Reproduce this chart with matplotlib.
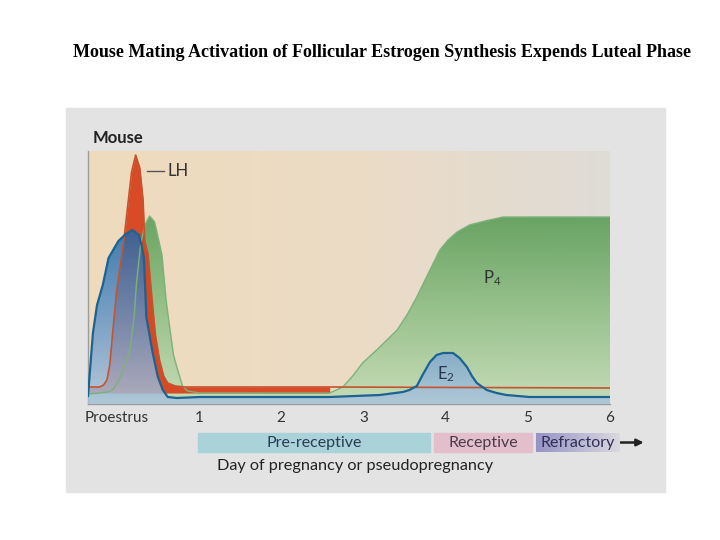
import numpy as np
import matplotlib
matplotlib.use("Agg")
import matplotlib.pyplot as plt
from matplotlib.colors import LinearSegmentedColormap
from matplotlib.patches import Rectangle

plt.rcParams['font.family'] = ['Lato', 'DejaVu Sans']
plt.rcParams['mathtext.fontset'] = 'custom'
plt.rcParams['mathtext.rm'] = 'Lato'
plt.rcParams['mathtext.it'] = 'Lato'

# --- hormone curves (day, relative level) ---
lh_day = [-0.35, -0.21, -0.16, -0.12, -0.085, -0.05, 0.0, 0.04, 0.085, 0.13, 0.18, 0.23,
          0.28, 0.32, 0.34, 0.38, 0.43, 0.47, 0.52, 0.57, 0.62, 0.71, 0.83, 2.59, 6.0]
lh_val = [17, 17, 19, 24, 39, 71, 114, 137, 163, 196, 232, 249,
          236, 204, 163, 150, 104, 69, 44, 28, 21, 18, 17, 17, 16]

p4_day = [-0.35, -0.21, -0.11, -0.05, 0.04, 0.11, 0.16, 0.21, 0.24, 0.29, 0.34, 0.40,
          0.46, 0.51, 0.55, 0.60, 0.64, 0.69, 0.73, 0.77, 0.80, 0.86, 1.01, 2.59,
          2.75, 2.87, 2.99, 3.20, 3.41, 3.53, 3.65, 3.78, 3.93, 4.03, 4.14, 4.29,
          4.48, 4.70, 6.0]
p4_val = [10, 11, 12, 14, 26, 42, 54, 86, 121, 159, 179, 188,
          182, 164, 149, 104, 79, 49, 37, 26, 18, 13, 11, 11,
          17, 28, 41, 57, 74, 89, 107, 129, 154, 164, 172, 179,
          183, 187, 187]

e2_day = [-0.35, -0.33, -0.29, -0.24, -0.17, -0.10, 0.02, 0.11, 0.19, 0.27, 0.30, 0.33,
          0.36, 0.43, 0.50, 0.56, 0.62, 0.73, 1.01, 2.59, 3.20, 3.48, 3.56, 3.65,
          3.72, 3.81, 3.89, 3.97, 4.09, 4.17, 4.26, 4.32, 4.38, 4.50, 4.62, 4.74,
          5.02, 6.0]
e2_val = [8, 29, 71, 99, 119, 146, 163, 170, 174, 169, 159, 146,
          87, 54, 27, 14, 7, 6, 7, 7, 9, 12, 14, 18,
          29, 42, 49, 51, 51, 46, 37, 28, 21, 14, 11, 9,
          7, 7]
lh_floor = 11
lh_fill_end = 2.59   # red area disappears where P4 starts rising

tick_pos = [0, 1, 2, 3, 4, 5, 6]
tick_labels = ['Proestrus', '1', '2', '3', '4', '5', '6']

phase_names = ['Pre-receptive', 'Receptive', 'Refractory']
phase_start = [0.985, 3.86, 5.10]
phase_end = [3.81, 5.05, 6.12]

fig = plt.figure(figsize=(7.2, 5.4), dpi=100)
fig.patches.append(Rectangle((66 / 720, 1 - 492 / 540), 599 / 720, 384 / 540,
                             transform=fig.transFigure, color='#e3e3e3', zorder=-5))
fig.text(0.531, 0.902,
         'Mouse Mating Activation of Follicular Estrogen Synthesis Expends Luteal Phase',
         ha='center', va='center', fontsize=13, fontweight='bold',
         family='Liberation Serif')

ax = fig.add_axes([88 / 720, 1 - 404 / 540, 522 / 720, 253 / 540])
ax.set_facecolor('none')
x0, x1, y0, y1 = -0.35, 6.0, 0, 253

# peach-to-grey background
bg = LinearSegmentedColormap.from_list('bg', ['#efdbbd', '#ecdcc5', '#dfdbd6'])
ax.imshow(np.linspace(0, 1, 256).reshape(1, -1), extent=[x0, x1, y0, y1],
          aspect='auto', cmap=bg, zorder=0)


def gradient_fill(x, y, floor, colors, zorder, alpha=1.0):
    poly = ax.fill_between(x, floor, y, facecolor='none', edgecolor='none', zorder=zorder)
    cmap = LinearSegmentedColormap.from_list('f', colors)
    im = ax.imshow(np.linspace(0, 1, 256).reshape(-1, 1), origin='lower',
                   extent=[min(x), max(x), 0, max(y)], aspect='auto',
                   cmap=cmap, alpha=alpha, zorder=zorder)
    im.set_clip_path(poly.get_paths()[0], transform=ax.transData)


# P4 (green)
gradient_fill(p4_day, p4_val, 0, ['#c3dcb6', '#8fbf85', '#5b9d57'], 2, 0.9)
ax.plot(p4_day, p4_val, color='#7cb27a', lw=1.0, zorder=4.5)

# LH (red)
lh_x = np.array(lh_day)
ax.fill_between(lh_x, lh_floor, lh_val, where=lh_x <= lh_fill_end,
                color='#d8431f', alpha=0.95, lw=0, zorder=3)
ax.plot(lh_day, lh_val, color='#c4532f', lw=1.2, zorder=4.6)

# E2 (blue)
gradient_fill(e2_day, e2_val, 0, ['#aac4de', '#5f93c7', '#1e67aa'], 4, 0.82)
ax.plot(e2_day, e2_val, color='#1b6391', lw=1.6, zorder=4.7)

ax.set_xlim(x0, x1)
ax.set_ylim(y0, y1)
for s in ['top', 'right']:
    ax.spines[s].set_visible(False)
for s in ['left', 'bottom']:
    ax.spines[s].set_color('#9c9c9c')
    ax.spines[s].set_linewidth(1.0)
ax.set_yticks([])
ax.set_xticks(tick_pos)
ax.set_xticklabels(tick_labels, fontsize=11, color='#333333')
ax.tick_params(axis='x', length=0, pad=5)

# labels inside the plot
ax.text(-0.29, 266, 'Mouse', fontsize=12, fontweight='bold', color='#222222',
        va='center', ha='left', clip_on=False)
ax.plot([0.365, 0.58], [233, 233], color='#555555', lw=1.0, zorder=6)
ax.text(0.62, 233, 'LH', fontsize=12, color='#333333', va='center', ha='left', zorder=6)
ax.text(4.57, 126, r'P$_4$', fontsize=12, color='#333333', ha='center', va='center', zorder=6)
ax.text(4.01, 30, r'E$_2$', fontsize=12, color='#2a3550', ha='center', va='center', zorder=6)

# phase bars under the axis
bar_colors = ['#a9d2d9', '#e3bfcc', None]
for name, a, b, c in zip(phase_names, phase_start, phase_end, bar_colors):
    if c is None:
        cm = LinearSegmentedColormap.from_list('r', ['#9893c6', '#b9b6d3', '#dad8df'])
        im = ax.imshow(np.linspace(0, 1, 64).reshape(1, -1), extent=[a, b, -48, -29],
                       aspect='auto', cmap=cm, zorder=5)
        im.set_clip_on(False)
        ax.text(a + 0.05, -38.5, name, fontsize=11.5, color='#2f2f55',
                ha='left', va='center', clip_on=False, zorder=6)
    else:
        ax.add_patch(Rectangle((a, -48), b - a, 19, color=c, clip_on=False, zorder=5))
        ax.text((a + b) / 2, -38.5, name, fontsize=11.5,
                color='#2b3a55' if name == 'Pre-receptive' else '#4a3a4a',
                ha='center', va='center', clip_on=False, zorder=6)
ax.annotate('', xy=(6.41, -38.5), xytext=(6.11, -38.5), annotation_clip=False,
            arrowprops=dict(arrowstyle='-|>', color='#222222', lw=1.8,
                            mutation_scale=10, shrinkA=0, shrinkB=0))
ax.text(2.9, -62, 'Day of pregnancy or pseudopregnancy', fontsize=11.7, color='#222222',
        ha='center', va='center', clip_on=False)

ax.set_xlim(x0, x1)
ax.set_ylim(y0, y1)
fig.savefig('out.png', dpi=100)
